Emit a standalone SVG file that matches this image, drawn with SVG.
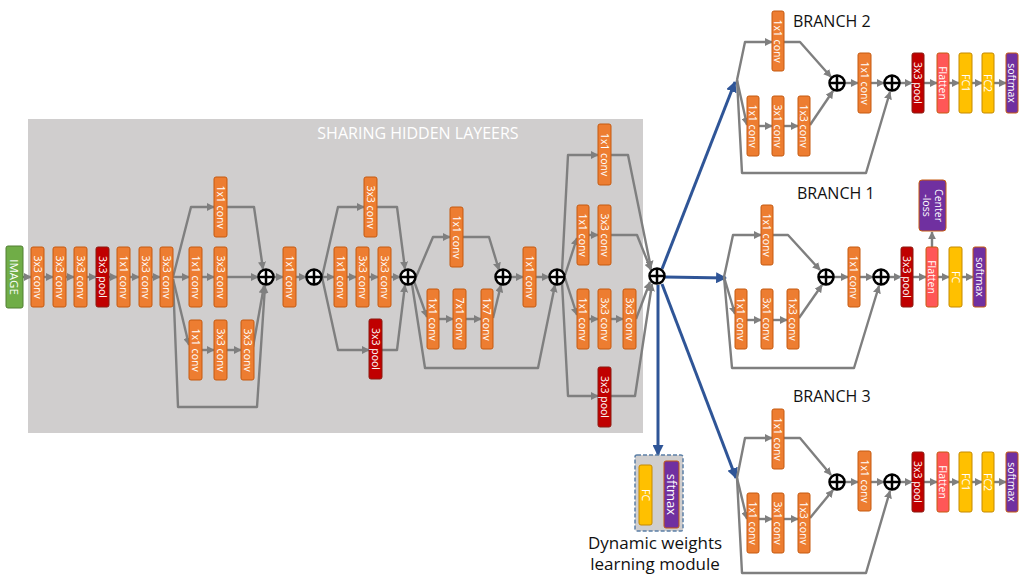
<svg xmlns="http://www.w3.org/2000/svg" width="1036" height="584" viewBox="0 0 1036 584">
<style>
text{font-family:"Open Sans","Liberation Sans",sans-serif}
.c{fill:#ED7D31;stroke:#C55A11;stroke-width:1}
.p{fill:#C00000;stroke:#8B1A10;stroke-width:1}
.fl{fill:#FF5757;stroke:#C55A11;stroke-width:1}
.fc{fill:#FFC000;stroke:#C58A00;stroke-width:1}
.sm{fill:#7030A0;stroke:#C55A11;stroke-width:1}
.im{fill:#70AD47;stroke:#507E32;stroke-width:1}
.t{fill:#fff;font-size:10.5px;text-anchor:middle;dominant-baseline:central}
.la{fill:none;stroke:#7F7F7F;stroke-width:2.4;stroke-linejoin:round;marker-end:url(#ag)}
.bl{fill:none;stroke:#2F5597;stroke-width:3;marker-end:url(#ab)}
.plus circle{fill:#fff;stroke:#000;stroke-width:2.5}
.plus path{stroke:#000;stroke-width:2.5}
.lbl{fill:#111;font-size:16px}
</style>
<defs>
<marker id="ag" viewBox="0 0 10 10" refX="9" refY="5" markerWidth="8" markerHeight="8" markerUnits="userSpaceOnUse" orient="auto"><path d="M0,0 L10,5 L0,10 z" fill="#7F7F7F"/></marker>
<marker id="ab" viewBox="0 0 10 10" refX="9" refY="5" markerWidth="11" markerHeight="11" markerUnits="userSpaceOnUse" orient="auto"><path d="M0,0 L10,5 L0,10 z" fill="#2F5597"/></marker>
</defs>
<rect x="0" y="0" width="1036" height="584" fill="#fff"/>
<rect id="shared-bg" x="28" y="119" width="615" height="314" fill="#D0CECE"/>
<text x="418" y="139" fill="#fff" font-size="16" text-anchor="middle">SHARING HIDDEN LAYEERS</text>

<g id="connectors">
<path class="la" d="M23,277 L31,277"/>
<path class="la" d="M44,277 L53,277"/>
<path class="la" d="M65,277 L74,277"/>
<path class="la" d="M87,277 L96,277"/>
<path class="la" d="M109,277 L117,277"/>
<path class="la" d="M130,277 L139,277"/>
<path class="la" d="M151,277 L160,277"/>
<path class="la" d="M173,277 L191,207 L214,207"/>
<path class="la" d="M227,207 L254,207 L263,269"/>
<path class="la" d="M173,277 L189,277"/>
<path class="la" d="M201,277 L214,277"/>
<path class="la" d="M227,277 L258,277"/>
<path class="la" d="M173,279 L189,345"/>
<path class="la" d="M201,350 L214,350"/>
<path class="la" d="M227,350 L241,350"/>
<path class="la" d="M253,347 L264,286"/>
<path class="la" d="M173,279 L178,407 L257,407 L265,286"/>
<path class="la" d="M274,277 L283,277"/>
<path class="la" d="M295,277 L306,277"/>
<path class="la" d="M322,277 L338,207 L364,207"/>
<path class="la" d="M377,207 L397,207 L405,269"/>
<path class="la" d="M322,277 L334,277"/>
<path class="la" d="M347,277 L356,277"/>
<path class="la" d="M368,277 L378,277"/>
<path class="la" d="M391,277 L400,277"/>
<path class="la" d="M322,277 L338,350 L369,350"/>
<path class="la" d="M381,350 L397,350 L405,285"/>
<path class="la" d="M416,277 L433,237 L450,237"/>
<path class="la" d="M462,237 L489,237 L499,270"/>
<path class="la" d="M414,281 L427,317"/>
<path class="la" d="M438,319 L453,319"/>
<path class="la" d="M466,319 L481,319"/>
<path class="la" d="M493,318 L501,285"/>
<path class="la" d="M511,277 L523,277"/>
<path class="la" d="M536,277 L549,277"/>
<path class="la" d="M412,284 L425,368 L538,368 L555,285"/>
<path class="la" d="M562,271 L568,155 L598,155"/>
<path class="la" d="M611,155 L628,155 L651,268"/>
<path class="la" d="M565,275 L577,238"/>
<path class="la" d="M589,235 L598,235"/>
<path class="la" d="M611,235 L637,235 L651,270"/>
<path class="la" d="M565,278 L577,315"/>
<path class="la" d="M589,319 L598,319"/>
<path class="la" d="M611,319 L623,319"/>
<path class="la" d="M636,319 L650,282"/>
<path class="la" d="M562,282 L568,396 L598,396"/>
<path class="la" d="M611,396 L635,396 L652,284"/>
<path class="bl" d="M662,269 L735,82"/>
<path class="bl" d="M665,277 L726,278"/>
<path class="bl" d="M662,284 L736,478"/>
<path class="bl" d="M658,285 L658,455"/>
<path class="la" d="M737,80 L745,42 L772,42"/>
<path class="la" d="M784,42 L800,42 L831,77"/>
<path class="la" d="M737,80 L747,125"/>
<path class="la" d="M759,126 L772,126"/>
<path class="la" d="M784,126 L798,126"/>
<path class="la" d="M810,125 L833,91"/>
<path class="la" d="M845,83 L858,83"/>
<path class="la" d="M871,83 L884,83"/>
<path class="la" d="M737,80 L742,173 L866,173 L890,92"/>
<path class="la" d="M900,83 L912,83"/>
<path class="la" d="M924,83 L937,83"/>
<path class="la" d="M949,83 L959,83"/>
<path class="la" d="M972,83 L982,83"/>
<path class="la" d="M994,83 L1006,83"/>
<path class="la" d="M724,277 L733,235 L761,235"/>
<path class="la" d="M773,235 L788,235 L820,270"/>
<path class="la" d="M724,277 L735,314"/>
<path class="la" d="M747,320 L761,320"/>
<path class="la" d="M773,320 L787,320"/>
<path class="la" d="M799,318 L822,285"/>
<path class="la" d="M834,277 L848,277"/>
<path class="la" d="M860,277 L873,277"/>
<path class="la" d="M724,277 L732,368 L854,368 L879,286"/>
<path class="la" d="M889,277 L901,277"/>
<path class="la" d="M913,277 L926,277"/>
<path class="la" d="M932,247 L932,232"/>
<path class="la" d="M938,277 L949,277"/>
<path class="la" d="M962,277 L973,277"/>
<path class="la" d="M737,478 L745,438 L772,438"/>
<path class="la" d="M784,438 L800,438 L831,475"/>
<path class="la" d="M737,478 L747,519"/>
<path class="la" d="M759,519 L772,519"/>
<path class="la" d="M784,519 L798,519"/>
<path class="la" d="M810,518 L833,490"/>
<path class="la" d="M845,482 L858,482"/>
<path class="la" d="M871,482 L884,482"/>
<path class="la" d="M737,478 L742,573 L866,573 L890,491"/>
<path class="la" d="M900,482 L912,482"/>
<path class="la" d="M924,482 L937,482"/>
<path class="la" d="M949,482 L959,482"/>
<path class="la" d="M972,482 L982,482"/>
<path class="la" d="M994,482 L1006,482"/>
<path class="la" d="M652,496 L664,496"/>
</g>

<g id="image"><rect class="im" x="6" y="246" width="17" height="62" rx="2"/><text class="t" style="font-size:11.5px" transform="translate(14.5,277) rotate(90)">IMAGE</text></g>
<g id="s1"><rect class="c" x="31" y="247" width="13" height="60" rx="2"/><text class="t" transform="translate(37.5,277) rotate(90)">3x3 conv</text></g>
<g id="s2"><rect class="c" x="53" y="247" width="13" height="60" rx="2"/><text class="t" transform="translate(59.5,277) rotate(90)">3x3 conv</text></g>
<g id="s3"><rect class="c" x="74" y="247" width="13" height="60" rx="2"/><text class="t" transform="translate(80.5,277) rotate(90)">3x3 conv</text></g>
<g id="s4"><rect class="p" x="96" y="247" width="13" height="60" rx="2"/><text class="t" transform="translate(102.5,277) rotate(90)">3x3 pool</text></g>
<g id="s5"><rect class="c" x="117" y="247" width="13" height="60" rx="2"/><text class="t" transform="translate(123.5,277) rotate(90)">1x1 conv</text></g>
<g id="s6"><rect class="c" x="139" y="247" width="13" height="60" rx="2"/><text class="t" transform="translate(145.5,277) rotate(90)">3x3 conv</text></g>
<g id="s7"><rect class="c" x="160" y="247" width="13" height="60" rx="2"/><text class="t" transform="translate(166.5,277) rotate(90)">3x3 conv</text></g>

<g id="a1"><rect class="c" x="214" y="177" width="13" height="60" rx="2"/><text class="t" transform="translate(220.5,207) rotate(90)">1x1 conv</text></g>
<g id="a2"><rect class="c" x="189" y="247" width="13" height="60" rx="2"/><text class="t" transform="translate(195.5,277) rotate(90)">1x1 conv</text></g>
<g id="a3"><rect class="c" x="214" y="247" width="13" height="60" rx="2"/><text class="t" transform="translate(220.5,277) rotate(90)">3x3 conv</text></g>
<g id="a4"><rect class="c" x="189" y="320" width="13" height="60" rx="2"/><text class="t" transform="translate(195.5,350) rotate(90)">1x1 conv</text></g>
<g id="a5"><rect class="c" x="214" y="320" width="13" height="60" rx="2"/><text class="t" transform="translate(220.5,350) rotate(90)">3x3 conv</text></g>
<g id="a6"><rect class="c" x="241" y="320" width="13" height="60" rx="2"/><text class="t" transform="translate(247.5,350) rotate(90)">3x3 conv</text></g>
<g id="pa" class="plus"><circle cx="266" cy="277" r="7.5"/><path d="M258.5,277 H273.5 M266,269.5 V284.5"/></g>
<g id="a7"><rect class="c" x="283" y="247" width="13" height="60" rx="2"/><text class="t" transform="translate(289.5,277) rotate(90)">1x1 conv</text></g>
<g id="pb" class="plus"><circle cx="314" cy="277" r="7.5"/><path d="M306.5,277 H321.5 M314,269.5 V284.5"/></g>

<g id="b1"><rect class="c" x="364" y="177" width="13" height="60" rx="2"/><text class="t" transform="translate(370.5,207) rotate(90)">3x3 conv</text></g>
<g id="b2"><rect class="c" x="334" y="247" width="13" height="60" rx="2"/><text class="t" transform="translate(340.5,277) rotate(90)">1x1 conv</text></g>
<g id="b3"><rect class="c" x="356" y="247" width="13" height="60" rx="2"/><text class="t" transform="translate(362.5,277) rotate(90)">3x3 conv</text></g>
<g id="b4"><rect class="c" x="378" y="247" width="13" height="60" rx="2"/><text class="t" transform="translate(384.5,277) rotate(90)">3x3 conv</text></g>
<g id="b5"><rect class="p" x="369" y="319" width="13" height="60" rx="2"/><text class="t" transform="translate(375.5,349) rotate(90)">3x3 pool</text></g>
<g id="pc" class="plus"><circle cx="408" cy="277" r="7.5"/><path d="M400.5,277 H415.5 M408,269.5 V284.5"/></g>

<g id="c1"><rect class="c" x="450" y="207" width="13" height="60" rx="2"/><text class="t" transform="translate(456.5,237) rotate(90)">1x1 conv</text></g>
<g id="c2"><rect class="c" x="427" y="289" width="12" height="60" rx="2"/><text class="t" transform="translate(433,319) rotate(90)">1x1 conv</text></g>
<g id="c3"><rect class="c" x="453" y="289" width="13" height="60" rx="2"/><text class="t" transform="translate(459.5,319) rotate(90)">7x1 conv</text></g>
<g id="c4"><rect class="c" x="481" y="289" width="12" height="60" rx="2"/><text class="t" transform="translate(487,319) rotate(90)">1x7 conv</text></g>
<g id="pd" class="plus"><circle cx="503" cy="277" r="7.5"/><path d="M495.5,277 H510.5 M503,269.5 V284.5"/></g>
<g id="c5"><rect class="c" x="523" y="247" width="13" height="60" rx="2"/><text class="t" transform="translate(529.5,277) rotate(90)">1x1 conv</text></g>
<g id="pe" class="plus"><circle cx="557" cy="277" r="7.5"/><path d="M549.5,277 H564.5 M557,269.5 V284.5"/></g>

<g id="d1"><rect class="c" x="598" y="124" width="13" height="61" rx="2"/><text class="t" transform="translate(604.5,154.5) rotate(90)">1x1 conv</text></g>
<g id="d2"><rect class="c" x="577" y="205" width="12" height="60" rx="2"/><text class="t" transform="translate(583,235) rotate(90)">1x1 conv</text></g>
<g id="d3"><rect class="c" x="598" y="205" width="13" height="60" rx="2"/><text class="t" transform="translate(604.5,235) rotate(90)">3x3 conv</text></g>
<g id="d4"><rect class="c" x="577" y="289" width="12" height="60" rx="2"/><text class="t" transform="translate(583,319) rotate(90)">1x1 conv</text></g>
<g id="d5"><rect class="c" x="598" y="289" width="13" height="60" rx="2"/><text class="t" transform="translate(604.5,319) rotate(90)">3x3 conv</text></g>
<g id="d6"><rect class="c" x="623" y="289" width="13" height="60" rx="2"/><text class="t" transform="translate(629.5,319) rotate(90)">3x3 conv</text></g>
<g id="d7"><rect class="p" x="598" y="367" width="13" height="60" rx="2"/><text class="t" transform="translate(604.5,397) rotate(90)">3x3 pool</text></g>
<g id="pf" class="plus"><circle cx="657" cy="276" r="7.5"/><path d="M649.5,276 H664.5 M657,268.5 V283.5"/></g>

<text id="branch2-label" class="lbl" x="793" y="27">BRANCH 2</text>
<g id="e1"><rect class="c" x="772" y="11" width="12" height="60" rx="2"/><text class="t" transform="translate(778,41) rotate(90)">1x1 conv</text></g>
<g id="e2"><rect class="c" x="747" y="96" width="12" height="60" rx="2"/><text class="t" transform="translate(753,126) rotate(90)">1x1 conv</text></g>
<g id="e3"><rect class="c" x="772" y="96" width="12" height="60" rx="2"/><text class="t" transform="translate(778,126) rotate(90)">3x1 conv</text></g>
<g id="e4"><rect class="c" x="798" y="96" width="12" height="60" rx="2"/><text class="t" transform="translate(804,126) rotate(90)">1x3 conv</text></g>
<g id="eA" class="plus"><circle cx="837" cy="83" r="7.5"/><path d="M829.5,83 H844.5 M837,75.5 V90.5"/></g>
<g id="e5"><rect class="c" x="858" y="53" width="13" height="60" rx="2"/><text class="t" transform="translate(864.5,83) rotate(90)">1x1 conv</text></g>
<g id="eB" class="plus"><circle cx="892" cy="83" r="7.5"/><path d="M884.5,83 H899.5 M892,75.5 V90.5"/></g>
<g id="e6"><rect class="p" x="912" y="53" width="12" height="60" rx="2"/><text class="t" transform="translate(918,83) rotate(90)">3x3 pool</text></g>
<g id="e7"><rect class="fl" x="937" y="53" width="12" height="60" rx="2"/><text class="t" transform="translate(943,83) rotate(90)">Flatten</text></g>
<g id="e8"><rect class="fc" x="959" y="53" width="13" height="60" rx="2"/><text class="t" transform="translate(965.5,83) rotate(90)">FC1</text></g>
<g id="e9"><rect class="fc" x="982" y="53" width="12" height="60" rx="2"/><text class="t" transform="translate(988,83) rotate(90)">FC2</text></g>
<g id="e10"><rect class="sm" x="1006" y="53" width="12" height="60" rx="2"/><text class="t" transform="translate(1012,83) rotate(90)">softmax</text></g>

<text id="branch1-label" class="lbl" x="797" y="199">BRANCH 1</text>
<g id="f1"><rect class="c" x="761" y="205" width="12" height="60" rx="2"/><text class="t" transform="translate(767,235) rotate(90)">1x1 conv</text></g>
<g id="f2"><rect class="c" x="735" y="289" width="12" height="60" rx="2"/><text class="t" transform="translate(741,319) rotate(90)">1x1 conv</text></g>
<g id="f3"><rect class="c" x="761" y="289" width="12" height="60" rx="2"/><text class="t" transform="translate(767,319) rotate(90)">3x1 conv</text></g>
<g id="f4"><rect class="c" x="787" y="289" width="12" height="60" rx="2"/><text class="t" transform="translate(793,319) rotate(90)">1x3 conv</text></g>
<g id="fA" class="plus"><circle cx="826" cy="277" r="7.5"/><path d="M818.5,277 H833.5 M826,269.5 V284.5"/></g>
<g id="f5"><rect class="c" x="848" y="247" width="12" height="60" rx="2"/><text class="t" transform="translate(854,277) rotate(90)">1x1 conv</text></g>
<g id="fB" class="plus"><circle cx="881" cy="277" r="7.5"/><path d="M873.5,277 H888.5 M881,269.5 V284.5"/></g>
<g id="f6"><rect class="p" x="901" y="247" width="12" height="60" rx="2"/><text class="t" transform="translate(907,277) rotate(90)">3x3 pool</text></g>
<g id="f7"><rect class="fl" x="926" y="247" width="12" height="60" rx="2"/><text class="t" transform="translate(932,277) rotate(90)">Flatten</text></g>
<g id="f8"><rect class="sm" x="919" y="180" width="27" height="51" rx="3"/><text class="t" transform="translate(932.5,205.5) rotate(90)"><tspan x="0" dy="-6">Center</tspan><tspan x="0" dy="12">-loss</tspan></text></g>
<g id="f9"><rect class="fc" x="949" y="247" width="13" height="60" rx="2"/><text class="t" transform="translate(955.5,277) rotate(90)">FC</text></g>
<g id="f10"><rect class="sm" x="973" y="247" width="13" height="60" rx="2"/><text class="t" transform="translate(979.5,277) rotate(90)">softmax</text></g>

<text id="branch3-label" class="lbl" x="793" y="402">BRANCH 3</text>
<g id="g1"><rect class="c" x="772" y="409" width="12" height="60" rx="2"/><text class="t" transform="translate(778,439) rotate(90)">1x1 conv</text></g>
<g id="g2"><rect class="c" x="747" y="493" width="12" height="60" rx="2"/><text class="t" transform="translate(753,523) rotate(90)">1x1 conv</text></g>
<g id="g3"><rect class="c" x="772" y="493" width="12" height="60" rx="2"/><text class="t" transform="translate(778,523) rotate(90)">3x1 conv</text></g>
<g id="g4"><rect class="c" x="798" y="493" width="12" height="60" rx="2"/><text class="t" transform="translate(804,523) rotate(90)">1x3 conv</text></g>
<g id="gA" class="plus"><circle cx="837" cy="482" r="7.5"/><path d="M829.5,482 H844.5 M837,474.5 V489.5"/></g>
<g id="g5"><rect class="c" x="858" y="451" width="13" height="60" rx="2"/><text class="t" transform="translate(864.5,481) rotate(90)">1x1 conv</text></g>
<g id="gB" class="plus"><circle cx="892" cy="482" r="7.5"/><path d="M884.5,482 H899.5 M892,474.5 V489.5"/></g>
<g id="g6"><rect class="p" x="912" y="452" width="12" height="60" rx="2"/><text class="t" transform="translate(918,482) rotate(90)">3x3 pool</text></g>
<g id="g7"><rect class="fl" x="937" y="452" width="12" height="60" rx="2"/><text class="t" transform="translate(943,482) rotate(90)">Flatten</text></g>
<g id="g8"><rect class="fc" x="959" y="452" width="13" height="60" rx="2"/><text class="t" transform="translate(965.5,482) rotate(90)">FC1</text></g>
<g id="g9"><rect class="fc" x="982" y="452" width="12" height="60" rx="2"/><text class="t" transform="translate(988,482) rotate(90)">FC2</text></g>
<g id="g10"><rect class="sm" x="1006" y="452" width="12" height="60" rx="2"/><text class="t" transform="translate(1012,482) rotate(90)">softmax</text></g>

<g id="dynamic">
<rect x="635" y="455" width="48" height="76" rx="2" fill="#D0CECE" stroke="#5B7FA6" stroke-width="1.5" stroke-dasharray="4,2"/>
<g id="dw-fc"><rect class="fc" x="639" y="465" width="13" height="60" rx="2"/><text class="t" transform="translate(645.5,495) rotate(90)">FC</text></g>
<g id="dw-sm"><rect class="sm" x="664" y="461" width="15" height="67" rx="2"/><text class="t" style="font-size:13px" transform="translate(671.5,494.5) rotate(90)">sftmax</text></g>
<text x="655" y="549" font-size="17" fill="#111" text-anchor="middle">Dynamic weights</text>
<text x="655" y="570" font-size="17" fill="#111" text-anchor="middle">learning module</text>
</g>
</svg>
